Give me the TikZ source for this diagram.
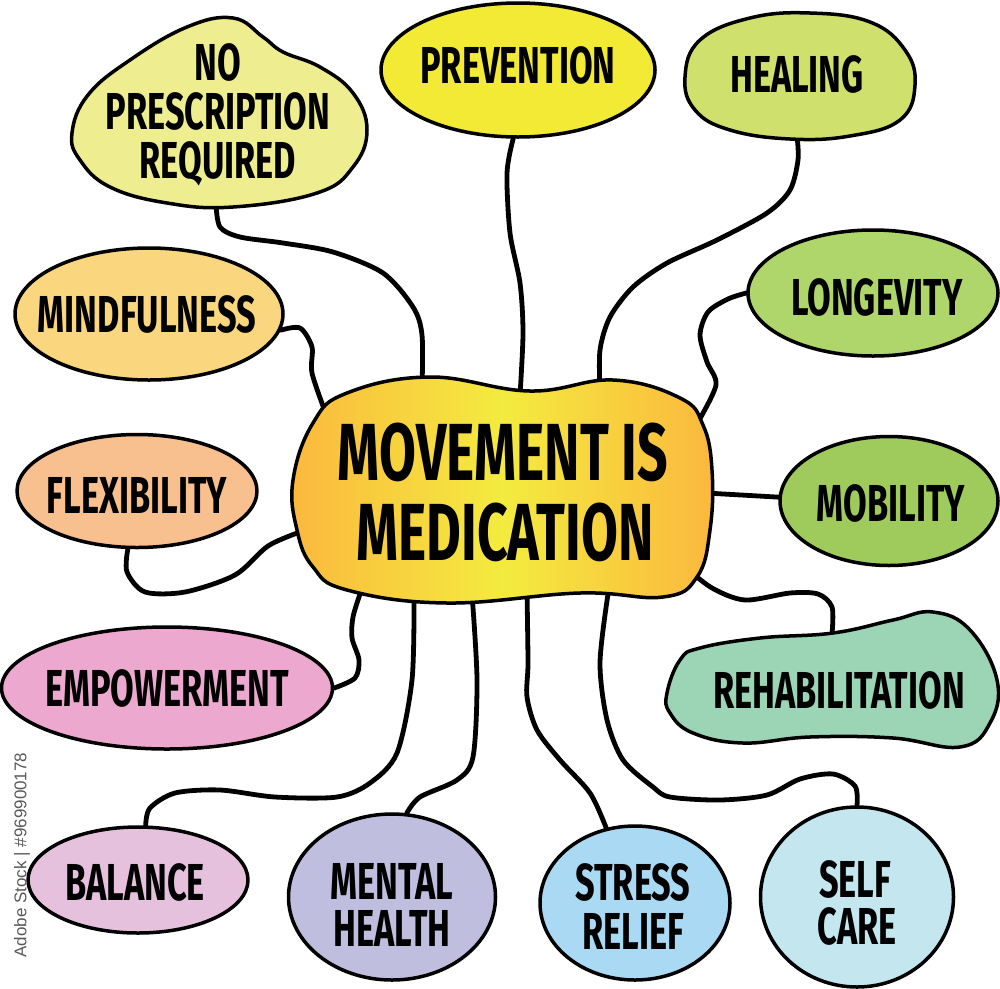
\documentclass[tikz,border=0pt]{standalone}
\usepackage{fontspec}
\newfontfamily\hand{Fira Sans}[FakeStretch=0.66]
\newfontfamily\wmfont{Liberation Sans}
\usetikzlibrary{shapes.geometric,backgrounds}
\definecolor{cNPR}{HTML}{EEEE90}
\definecolor{cPrev}{HTML}{F2EA35}
\definecolor{cHeal}{HTML}{CFE06D}
\definecolor{cLong}{HTML}{AED66A}
\definecolor{cMind}{HTML}{FAD67E}
\definecolor{cFlex}{HTML}{F8C08E}
\definecolor{cMob}{HTML}{9FCB5D}
\definecolor{cReh}{HTML}{9CD5B5}
\definecolor{cEmp}{HTML}{EDA8CF}
\definecolor{cBal}{HTML}{E6C1DE}
\definecolor{cMent}{HTML}{BFBEDF}
\definecolor{cStress}{HTML}{A9D9F3}
\definecolor{cSelf}{HTML}{C3E6EF}
\definecolor{cOr}{HTML}{FBB83E}
\definecolor{cYe}{HTML}{F4EB3F}
\tikzset{
  outl/.style={draw=black, line width=3.5pt, line join=round},
  bub/.style={ellipse, outl, inner sep=0pt},
  link/.style={draw=black, line width=4.8pt, line cap=round, line join=round},
  lbl/.style={anchor=base, inner sep=0pt, font=\hand\bfseries\fontsize{52}{52}\selectfont},
  ttl/.style={anchor=base, inner sep=0pt, font=\hand\bfseries\fontsize{81}{81}\selectfont},
}
\begin{document}
\begin{tikzpicture}[x=1pt,y=-1pt]
\useasboundingbox (0,0) rectangle (1000,988);

% ---------- blobs ----------
\draw[outl, fill=cNPR] plot[smooth cycle, tension=0.7] coordinates {(72,133) (88,95) (130,60) (187,27) (233,18) (263,37) (283,52) (320,67) (353,93) (367,130) (353,167) (317,193) (233,207) (167,203) (110,187) (80,160)};
\draw[outl, fill=cHeal] plot[smooth cycle, tension=0.7] coordinates {(685,77) (700,40) (750,18) (810,13) (870,22) (905,50) (915,85) (900,120) (850,136) (790,139) (730,130) (695,110)};
\draw[outl, fill=cReh] plot[smooth cycle, tension=0.7] coordinates {(667,693) (680,660) (700,648) (760,638) (833,633) (893,620) (933,612) (970,630) (997,680) (990,723) (960,747) (893,738) (810,737) (743,743) (693,733) (670,713)};
\draw[outl, left color=cOr, right color=cOr, middle color=cYe] plot[smooth cycle, tension=0.7] coordinates {(293,480) (313,423) (347,393) (430,377) (530,391) (613,380) (680,398) (703,425) (712,470) (710,530) (697,577) (663,597) (580,593) (447,603) (347,590) (313,567) (297,530)};

% ---------- ellipses ----------
\node[bub, fill=cPrev, minimum width=274pt, minimum height=134pt] (prev) at (518,70) {};
\node[bub, fill=cLong, minimum width=250pt, minimum height=126pt] (long) at (873,293) {};
\node[bub, fill=cMind, minimum width=268pt, minimum height=132pt] (mind) at (149,314) {};
\node[bub, fill=cFlex, minimum width=240pt, minimum height=113pt] (flex) at (137,491) {};
\node[bub, fill=cMob, minimum width=218pt, minimum height=129pt] (mob) at (889,501) {};
\node[bub, fill=cEmp, minimum width=331pt, minimum height=122pt] (emp) at (167,688) {};
\node[bub, fill=cBal, minimum width=220pt, minimum height=106pt] (bal) at (138,880) {};
\node[bub, fill=cMent, minimum width=207pt, minimum height=166pt] (ment) at (392,897) {};
\node[bub, fill=cStress, minimum width=190pt, minimum height=154pt] (stress) at (635,903) {};
\node[bub, fill=cSelf, minimum width=193pt, minimum height=180pt] (self) at (857,897) {};

% ---------- connector end points ----------
\coordinate (nprB) at (216,204);
\coordinate (healB) at (797,136);
\coordinate (rehT) at (832,634);
\coordinate (cA) at (422,388);
\coordinate (cB) at (520,395);
\coordinate (cC) at (600,392);
\coordinate (cD) at (698,422);
\coordinate (cE) at (326,414);
\coordinate (cF) at (300,532);
\coordinate (cG) at (706,493);
\coordinate (cH) at (684,566);
\coordinate (cI) at (360,594);
\coordinate (cJ) at (414,596);
\coordinate (cK) at (472,594);
\coordinate (cL) at (527,592);
\coordinate (cM) at (608,594);

% ---------- connectors ----------
\begin{scope}[on background layer]
\draw[link] plot[smooth] coordinates {(nprB) (220,227) (240,237) (283,243) (333,252) (383,273) (413,307) (422,335) (cA)};
\draw[link] plot[smooth] coordinates {(prev.-94) (507,173) (510,233) (520,283) (523,333) (cB)};
\draw[link] plot[smooth] coordinates {(healB) (798,160) (790,190) (767,213) (717,240) (667,263) (633,287) (610,317) (600,350) (cC)};
\draw[link] plot[smooth] coordinates {(long.west) (728,299) (708,312) (700,335) (707,362) (716,385) (cD)};
\draw[link] plot[smooth] coordinates {(mind.-7) (300,328) (312,347) (312,373) (cE)};
\draw[link] plot[smooth] coordinates {(flex.-99) (127,572) (145,592) (185,592) (235,575) (268,546) (cF)};
\draw[link] (mob.178) -- (cG);
\draw[link] plot[smooth] coordinates {(rehT) (832,607) (818,594) (790,593) (745,600) (712,588) (cH)};
\draw[link] plot[smooth] coordinates {(emp.east) (355,678) (359,660) (352,638) (353,617) (cI)};
\draw[link] plot[smooth] coordinates {(bal.82) (150,808) (175,793) (220,790) (275,797) (337,797) (370,783) (397,753) (412,680) (cJ)};
\draw[link] plot[smooth] coordinates {(ment.80) (420,797) (457,780) (473,757) (477,680) (cK)};
\draw[link] plot[smooth] coordinates {(stress.111) (590,793) (560,760) (537,730) (527,697) (528,663) (cL)};
\draw[link] plot[smooth] coordinates {(self.north) (855,786) (833,774) (800,779) (767,795) (720,800) (670,797) (653,787) (623,760) (607,720) (600,663) (cM)};
\end{scope}

% ---------- labels ----------
\node[lbl] (npr1) at (218,80) {NO};
\node[lbl] (npr2) at (218,129) {PRESCRIPTION};
\node[lbl] (npr3) at (218,178) {REQUIRED};
\node[lbl] (tprev) at (518,83) {PREVENTION};
\node[lbl] (theal) at (797,92) {HEALING};
\node[lbl] (tlong) at (877,315) {LONGEVITY};
\node[lbl] (tmind) at (147,332) {MINDFULNESS};
\node[lbl] (tflex) at (137,513) {FLEXIBILITY};
\node[lbl] (tmob) at (891,521) {MOBILITY};
\node[ttl] (tc1) at (503,480) {MOVEMENT IS};
\node[ttl] (tc2) at (505,560) {MEDICATION};
\node[lbl] (temp) at (167,706) {EMPOWERMENT};
\node[lbl] (treh) at (839,708) {REHABILITATION};
\node[lbl] (tbal) at (135,900) {BALANCE};
\node[lbl] (tment1) at (392,899) {MENTAL};
\node[lbl] (tment2) at (392,946) {HEALTH};
\node[lbl] (tstr1) at (633,900) {STRESS};
\node[lbl] (tstr2) at (633,949) {RELIEF};
\node[lbl] (tself1) at (855,897) {SELF};
\node[lbl] (tself2) at (857,944) {CARE};

\node[rotate=90, inner sep=0pt, text=black!65, font=\wmfont\fontsize{17}{17}\selectfont] (wm) at (22,855) {Adobe Stock | \#969900178};
\end{tikzpicture}
\end{document}
